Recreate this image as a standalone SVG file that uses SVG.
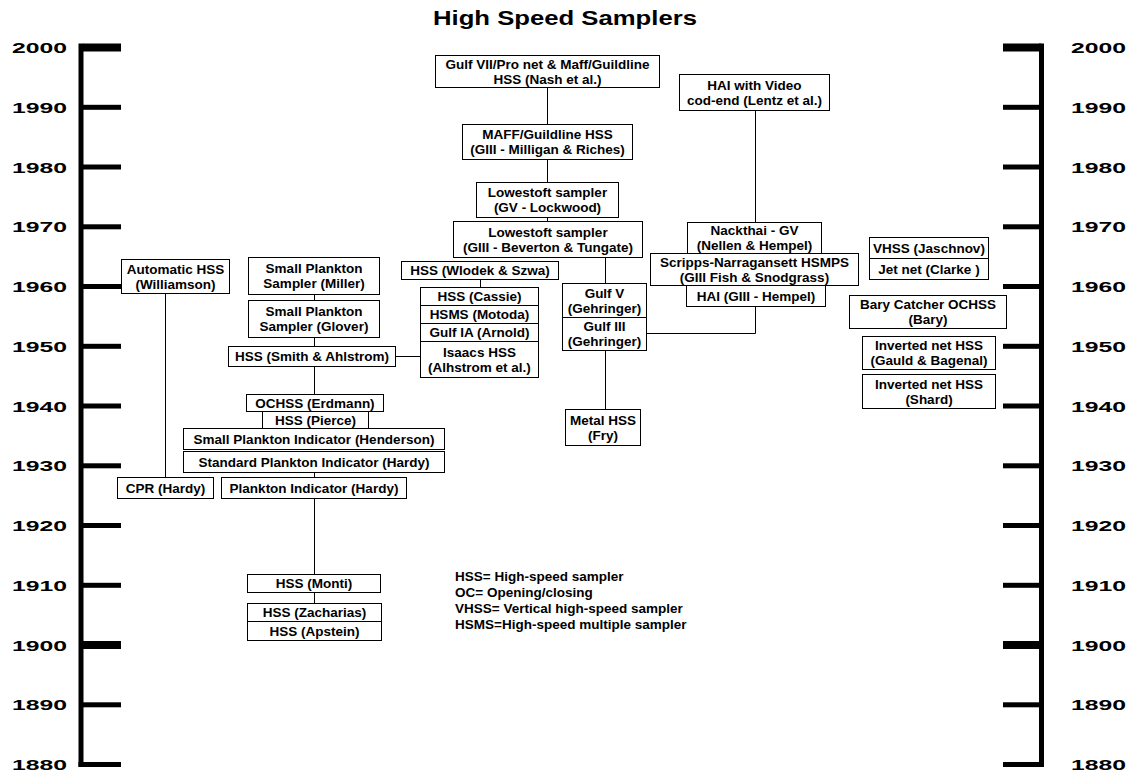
<svg xmlns="http://www.w3.org/2000/svg" width="1136" height="775" viewBox="0 0 1136 775">
<style>
.box{fill:#fff;stroke:#000;stroke-width:1}
.t{font-family:"Liberation Sans",Arial,sans-serif;font-weight:bold;font-size:13.5px;fill:#000;text-anchor:middle}
.yr{font-family:"Liberation Sans",Arial,sans-serif;font-weight:bold;font-size:15px;fill:#000}
.lg{font-family:"Liberation Sans",Arial,sans-serif;font-weight:bold;font-size:13.5px;fill:#000}
.c{stroke:#000;stroke-width:1;fill:none}
.ax{fill:#000}
</style>
<rect width="1136" height="775" fill="#fff"/>
<text x="433" y="25" font-family="Liberation Sans,Arial,sans-serif" font-weight="bold" font-size="21" textLength="264" lengthAdjust="spacingAndGlyphs">High Speed Samplers</text>

<g id="axis-left">
<rect class="ax" x="78.5" y="43.5" width="5" height="723.5"/>
<rect class="ax" x="83" y="43.5" width="38" height="8"/>
<rect class="ax" x="83" y="104.8" width="38" height="5"/>
<rect class="ax" x="83" y="164.5" width="38" height="5"/>
<rect class="ax" x="83" y="224.3" width="38" height="5"/>
<rect class="ax" x="83" y="284" width="38" height="5"/>
<rect class="ax" x="83" y="343.8" width="38" height="5"/>
<rect class="ax" x="83" y="403.5" width="38" height="5"/>
<rect class="ax" x="83" y="463.3" width="38" height="5"/>
<rect class="ax" x="83" y="523" width="38" height="5"/>
<rect class="ax" x="83" y="582.8" width="38" height="5"/>
<rect class="ax" x="83" y="641" width="38" height="8"/>
<rect class="ax" x="83" y="702.3" width="38" height="5"/>
<rect class="ax" x="78.5" y="762" width="42.5" height="5"/>
<text class="yr" x="12" y="53" textLength="55" lengthAdjust="spacingAndGlyphs">2000</text>
<text class="yr" x="12" y="112.8" textLength="55" lengthAdjust="spacingAndGlyphs">1990</text>
<text class="yr" x="12" y="172.5" textLength="55" lengthAdjust="spacingAndGlyphs">1980</text>
<text class="yr" x="12" y="232.3" textLength="55" lengthAdjust="spacingAndGlyphs">1970</text>
<text class="yr" x="12" y="292" textLength="55" lengthAdjust="spacingAndGlyphs">1960</text>
<text class="yr" x="12" y="351.8" textLength="55" lengthAdjust="spacingAndGlyphs">1950</text>
<text class="yr" x="12" y="411.5" textLength="55" lengthAdjust="spacingAndGlyphs">1940</text>
<text class="yr" x="12" y="471.3" textLength="55" lengthAdjust="spacingAndGlyphs">1930</text>
<text class="yr" x="12" y="531" textLength="55" lengthAdjust="spacingAndGlyphs">1920</text>
<text class="yr" x="12" y="590.8" textLength="55" lengthAdjust="spacingAndGlyphs">1910</text>
<text class="yr" x="12" y="650.5" textLength="55" lengthAdjust="spacingAndGlyphs">1900</text>
<text class="yr" x="12" y="710.3" textLength="55" lengthAdjust="spacingAndGlyphs">1890</text>
<text class="yr" x="12" y="770" textLength="55" lengthAdjust="spacingAndGlyphs">1880</text>
</g>

<g id="axis-right">
<rect class="ax" x="1039" y="43.5" width="5" height="723.5"/>
<rect class="ax" x="1003" y="43.5" width="38" height="8"/>
<rect class="ax" x="1003" y="104.8" width="38" height="5"/>
<rect class="ax" x="1003" y="164.5" width="38" height="5"/>
<rect class="ax" x="1003" y="224.3" width="38" height="5"/>
<rect class="ax" x="1003" y="284" width="38" height="5"/>
<rect class="ax" x="1003" y="343.8" width="38" height="5"/>
<rect class="ax" x="1003" y="403.5" width="38" height="5"/>
<rect class="ax" x="1003" y="463.3" width="38" height="5"/>
<rect class="ax" x="1003" y="523" width="38" height="5"/>
<rect class="ax" x="1003" y="582.8" width="38" height="5"/>
<rect class="ax" x="1003" y="641" width="38" height="8"/>
<rect class="ax" x="1003" y="702.3" width="38" height="5"/>
<rect class="ax" x="1003" y="762" width="41" height="5"/>
<text class="yr" x="1071" y="53" textLength="55" lengthAdjust="spacingAndGlyphs">2000</text>
<text class="yr" x="1071" y="112.8" textLength="55" lengthAdjust="spacingAndGlyphs">1990</text>
<text class="yr" x="1071" y="172.5" textLength="55" lengthAdjust="spacingAndGlyphs">1980</text>
<text class="yr" x="1071" y="232.3" textLength="55" lengthAdjust="spacingAndGlyphs">1970</text>
<text class="yr" x="1071" y="292" textLength="55" lengthAdjust="spacingAndGlyphs">1960</text>
<text class="yr" x="1071" y="351.8" textLength="55" lengthAdjust="spacingAndGlyphs">1950</text>
<text class="yr" x="1071" y="411.5" textLength="55" lengthAdjust="spacingAndGlyphs">1940</text>
<text class="yr" x="1071" y="471.3" textLength="55" lengthAdjust="spacingAndGlyphs">1930</text>
<text class="yr" x="1071" y="531" textLength="55" lengthAdjust="spacingAndGlyphs">1920</text>
<text class="yr" x="1071" y="590.8" textLength="55" lengthAdjust="spacingAndGlyphs">1910</text>
<text class="yr" x="1071" y="650.5" textLength="55" lengthAdjust="spacingAndGlyphs">1900</text>
<text class="yr" x="1071" y="710.3" textLength="55" lengthAdjust="spacingAndGlyphs">1890</text>
<text class="yr" x="1071" y="770" textLength="55" lengthAdjust="spacingAndGlyphs">1880</text>
</g>

<g id="connectors">
<path class="c" d="M547.5 87.5V124.5M547.5 159.5V182.5M547.5 217.5V221.5"/>
<path class="c" d="M605.5 257.5V283.5M605.5 350.5V409.5"/>
<path class="c" d="M480.5 279.5V287.5"/>
<path class="c" d="M755.5 110.5V222.5"/>
<path class="c" d="M755.5 306.5V333.5H646.5"/>
<path class="c" d="M395.5 356.5H420.5"/>
<path class="c" d="M314.5 294.5V300.5M314.5 337.5V346.5M314.5 366.5V394.5M314.5 472.5V477.5M314.5 498.5V574.5M314.5 592.5V603.5"/>
<path class="c" d="M165.5 293.5V477.5"/>
</g>

<g id="n-gulf7"><rect class="box" x="435.5" y="55.5" width="224" height="32"/><text class="t"><tspan x="547.5" y="68.75">Gulf VII/Pro net &amp; Maff/Guildline</tspan><tspan x="547.5" y="83.95">HSS (Nash et al.)</tspan></text></g>
<g id="n-hai-video"><rect class="box" x="679.5" y="74.5" width="150" height="36"/><text class="t"><tspan x="754.5" y="89.75">HAI with Video</tspan><tspan x="754.5" y="104.95">cod-end (Lentz et al.)</tspan></text></g>
<g id="n-maff"><rect class="box" x="462.5" y="124.5" width="170" height="35"/><text class="t"><tspan x="547.5" y="139.25">MAFF/Guildline HSS</tspan><tspan x="547.5" y="154.45">(GIII - Milligan &amp; Riches)</tspan></text></g>
<g id="n-lowestoft-gv"><rect class="box" x="476.5" y="182.5" width="142" height="35"/><text class="t"><tspan x="547.5" y="197.25">Lowestoft sampler</tspan><tspan x="547.5" y="212.45">(GV - Lockwood)</tspan></text></g>
<g id="n-lowestoft-giii"><rect class="box" x="453.5" y="221.5" width="189" height="36"/><text class="t"><tspan x="548" y="236.75">Lowestoft sampler</tspan><tspan x="548" y="251.95">(GIII - Beverton &amp; Tungate)</tspan></text></g>
<g id="n-wlodek"><rect class="box" x="401.5" y="261.5" width="157" height="18"/><text class="t" x="480" y="275.35">HSS (Wlodek &amp; Szwa)</text></g>
<g id="n-cassie"><rect class="box" x="420.5" y="287.5" width="118" height="18"/><text class="t" x="479.5" y="301.35">HSS (Cassie)</text></g>
<g id="n-motoda"><rect class="box" x="420.5" y="305.5" width="118" height="18"/><text class="t" x="479.5" y="319.35">HSMS (Motoda)</text></g>
<g id="n-arnold"><rect class="box" x="420.5" y="323.5" width="118" height="18"/><text class="t" x="479.5" y="337.35">Gulf IA (Arnold)</text></g>
<g id="n-isaacs"><rect class="box" x="420.5" y="341.5" width="118" height="36"/><text class="t"><tspan x="479.5" y="356.75">Isaacs HSS</tspan><tspan x="479.5" y="371.95">(Alhstrom et al.)</tspan></text></g>
<g id="n-gulfv"><rect class="box" x="562.5" y="283.5" width="84" height="34"/><text class="t"><tspan x="604.5" y="297.75">Gulf V</tspan><tspan x="604.5" y="312.95">(Gehringer)</tspan></text></g>
<g id="n-gulfiii"><rect class="box" x="562.5" y="317.5" width="84" height="33"/><text class="t"><tspan x="604.5" y="331.25">Gulf III</tspan><tspan x="604.5" y="346.45">(Gehringer)</tspan></text></g>
<g id="n-metal"><rect class="box" x="565.5" y="409.5" width="75" height="36"/><text class="t"><tspan x="603" y="424.75">Metal HSS</tspan><tspan x="603" y="439.95">(Fry)</tspan></text></g>
<g id="n-nackthai"><rect class="box" x="687.5" y="222.5" width="134" height="31"/><text class="t"><tspan x="754.5" y="235.25">Nackthai - GV</tspan><tspan x="754.5" y="250.45">(Nellen &amp; Hempel)</tspan></text></g>
<g id="n-scripps"><rect class="box" x="650.5" y="253.5" width="208" height="32"/><text class="t"><tspan x="754.5" y="266.75">Scripps-Narragansett HSMPS</tspan><tspan x="754.5" y="281.95">(GIII Fish &amp; Snodgrass)</tspan></text></g>
<g id="n-hai-giii"><rect class="box" x="686.5" y="285.5" width="139" height="21"/><text class="t" x="756" y="300.85">HAI (GIII - Hempel)</text></g>
<g id="n-vhss"><rect class="box" x="869.5" y="237.5" width="119" height="21"/><text class="t" x="929" y="252.85">VHSS (Jaschnov)</text></g>
<g id="n-jetnet"><rect class="box" x="869.5" y="258.5" width="119" height="21"/><text class="t" x="929" y="273.85">Jet net (Clarke )</text></g>
<g id="n-bary"><rect class="box" x="849.5" y="295.5" width="157" height="33"/><text class="t"><tspan x="928" y="309.25">Bary Catcher OCHSS</tspan><tspan x="928" y="324.45">(Bary)</tspan></text></g>
<g id="n-gauld"><rect class="box" x="862.5" y="336.5" width="133" height="33"/><text class="t"><tspan x="929" y="350.25">Inverted net HSS</tspan><tspan x="929" y="365.45">(Gauld &amp; Bagenal)</tspan></text></g>
<g id="n-shard"><rect class="box" x="862.5" y="374.5" width="133" height="34"/><text class="t"><tspan x="929" y="388.75">Inverted net HSS</tspan><tspan x="929" y="403.95">(Shard)</tspan></text></g>
<g id="n-williamson"><rect class="box" x="121.5" y="259.5" width="108" height="34"/><text class="t"><tspan x="175.5" y="273.75">Automatic HSS</tspan><tspan x="175.5" y="288.95">(Williamson)</tspan></text></g>
<g id="n-miller"><rect class="box" x="248.5" y="257.5" width="131" height="37"/><text class="t"><tspan x="314" y="273.25">Small Plankton</tspan><tspan x="314" y="288.45">Sampler (Miller)</tspan></text></g>
<g id="n-glover"><rect class="box" x="248.5" y="300.5" width="131" height="37"/><text class="t"><tspan x="314" y="316.25">Small Plankton</tspan><tspan x="314" y="331.45">Sampler (Glover)</tspan></text></g>
<g id="n-smith"><rect class="box" x="228.5" y="346.5" width="167" height="20"/><text class="t" x="312" y="361.35">HSS (Smith &amp; Ahlstrom)</text></g>
<g id="n-erdmann"><rect class="box" x="246.5" y="394.5" width="137" height="17"/><text class="t" x="315" y="407.85">OCHSS (Erdmann)</text></g>
<g id="n-pierce"><rect class="box" x="262.5" y="411.5" width="106" height="17"/><text class="t" x="315.5" y="424.85">HSS (Pierce)</text></g>
<g id="n-henderson"><rect class="box" x="183.5" y="428.5" width="261" height="21"/><text class="t" x="314" y="443.85">Small Plankton Indicator (Henderson)</text></g>
<g id="n-standard"><rect class="box" x="183.5" y="451.5" width="261" height="21"/><text class="t" x="314" y="466.85">Standard Plankton Indicator (Hardy)</text></g>
<g id="n-cpr"><rect class="box" x="117.5" y="477.5" width="96" height="21"/><text class="t" x="165.5" y="492.85">CPR (Hardy)</text></g>
<g id="n-plankton-indicator"><rect class="box" x="221.5" y="477.5" width="185" height="21"/><text class="t" x="314" y="492.85">Plankton Indicator (Hardy)</text></g>
<g id="n-monti"><rect class="box" x="247.5" y="574.5" width="133" height="18"/><text class="t" x="314" y="588.35">HSS (Monti)</text></g>
<g id="n-zacharias"><rect class="box" x="247.5" y="603.5" width="134" height="18"/><text class="t" x="314.5" y="617.35">HSS (Zacharias)</text></g>
<g id="n-apstein"><rect class="box" x="247.5" y="621.5" width="134" height="19"/><text class="t" x="314.5" y="635.85">HSS (Apstein)</text></g>

<g id="legend">
<text class="lg"><tspan x="455" y="581">HSS= High-speed sampler</tspan><tspan x="455" y="597">OC= Opening/closing</tspan><tspan x="455" y="613">VHSS= Vertical high-speed sampler</tspan><tspan x="455" y="629">HSMS=High-speed multiple sampler</tspan></text>
</g>
</svg>
